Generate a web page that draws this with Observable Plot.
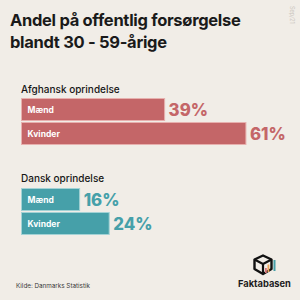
<!DOCTYPE html>
<html>
<head>
<meta charset="utf-8">
<script src="https://cdn.jsdelivr.net/npm/d3@7"></script>
<script src="https://cdn.jsdelivr.net/npm/@observablehq/plot@0.6"></script>
<style>
  html, body { margin: 0; padding: 0; background: #f1ede7; }
  #wrap { position: relative; width: 300px; height: 300px; overflow: hidden; background: #f1ede7; font-family: Inter, "Open Sans", sans-serif; }
  .title { position: absolute; left: 10px; top: 9px; font-size: 16.5px; font-weight: 700; line-height: 22px; color: #1a1a1a; letter-spacing: -0.3px; }
  .head { position: absolute; left: 21px; font-size: 10px; font-weight: 500; color: #161616; }
  .plot { position: absolute; left: 0; }
  .src { position: absolute; left: 16px; top: 281.5px; font-size: 6.3px; color: #3a3a3a; }
  .brand { position: absolute; left: 238px; top: 278px; font-size: 9.3px; font-weight: 700; color: #1c1c1c; }
  .date { position: absolute; left: 289px; top: 6px; font-size: 5.5px; color: #c9c4bd; writing-mode: vertical-rl; }
  .logo { position: absolute; left: 252px; top: 254px; }
</style>
</head>
<body>
<div id="wrap">
  <div class="title">Andel på offentlig forsørgelse<br>blandt 30 - 59-årige</div>
  <div class="date">Sep/21</div>
  <div class="head" style="top:82.5px">Afghansk oprindelse</div>
  <div class="head" style="top:172px">Dansk oprindelse</div>
  <div id="g1" class="plot" style="top:98.3px"></div>
  <div id="g2" class="plot" style="top:188.3px"></div>
  <div class="src">Kilde: Danmarks Statistik</div>
  <svg class="logo" width="26" height="24" viewBox="0 0 26 24">
    <path d="M11 1.5 L19.5 5.5 L19.5 15 L11 20 L2.5 15 L2.5 5.5 Z" fill="none" stroke="#111" stroke-width="2.4" stroke-linejoin="round"/>
    <path d="M2.5 5.5 L11 10 L19.5 5.5 M11 10 L11 20" fill="none" stroke="#111" stroke-width="2.2" stroke-linejoin="round"/>
    <rect x="13" y="14" width="1.8" height="5" fill="#d9767a"/>
    <rect x="15.5" y="10.5" width="1.8" height="7.5" fill="#eaa45a"/>
    <rect x="21.5" y="6" width="2" height="11" fill="#46a0a9"/>
  </svg>
  <div class="brand">Faktabasen</div>
</div>
<script>
const groups = ["Afghansk oprindelse", "Dansk oprindelse"];
const genders = ["Mænd", "Kvinder"];
const afghanValues = [39, 61];
const danishValues = [16, 24];
const groupColors = ["#c46668", "#46a0a9"];
const groupStrokes = ["#e7b0ae", "#a3d2d5"];

function groupPlot(values, color, stroke) {
  const data = genders.map((g, i) => ({gender: g, value: values[i]}));
  return Plot.plot({
    width: 300,
    height: 47.5,
    marginLeft: 21,
    marginRight: 0,
    marginTop: 0,
    marginBottom: 0,
    style: {background: "transparent", overflow: "visible", fontFamily: "Inter, 'Open Sans', sans-serif"},
    x: {domain: [0, 75.5], axis: null},
    y: {domain: genders, axis: null, paddingInner: 0.061, paddingOuter: 0},
    marks: [
      Plot.barX(data, {x: "value", y: "gender", fill: color, stroke: stroke, strokeWidth: 1, inset: 0.5}),
      Plot.text(data, {x: 0, y: "gender", text: "gender", dx: 6, textAnchor: "start", fill: "white", fontSize: 8.5, fontWeight: 700}),
      Plot.text(data, {x: "value", y: "gender", text: d => d.value + "%", dx: 3, dy: 1, textAnchor: "start", fill: color, fontSize: 16.8, fontWeight: 800})
    ]
  });
}

document.getElementById("g1").appendChild(groupPlot(afghanValues, groupColors[0], groupStrokes[0]));
document.getElementById("g2").appendChild(groupPlot(danishValues, groupColors[1], groupStrokes[1]));
</script>
</body>
</html>
